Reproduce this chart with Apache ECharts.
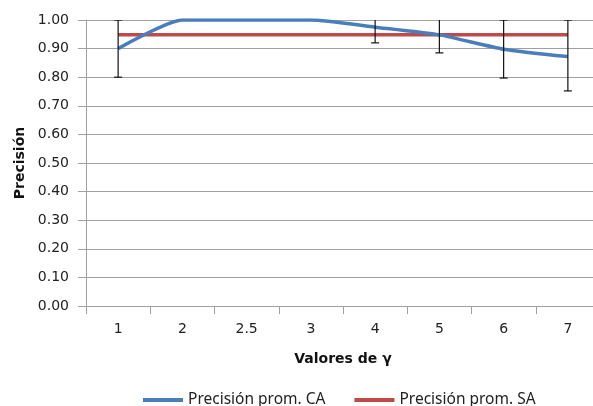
<!DOCTYPE html>
<html>
<head>
<meta charset="utf-8">
<script src="https://cdn.jsdelivr.net/npm/echarts@6/dist/echarts.min.js"></script>
<style>html,body{margin:0;padding:0;background:#fff;overflow:hidden}#c{width:602px;height:406px}</style>
</head>
<body>
<div id="c"></div>
<script>
var categories = ['1', '2', '2.5', '3', '4', '5', '6', '7'];
var precisionCA = [0.90, 1.00, 1.00, 1.00, 0.975, 0.948, 0.898, 0.872];
var precisionSA = [0.948, 0.948, 0.948, 0.948, 0.948, 0.948, 0.948, 0.948];
// error bars: [category index, low, high]
var errorBars = [[0, 0.80, 1.00], [4, 0.92, 1.03], [5, 0.885, 1.012], [6, 0.797, 1.00], [7, 0.752, 1.00]];
var yTicks = [0, 0.1, 0.2, 0.3, 0.4, 0.5, 0.6, 0.7, 0.8, 0.9, 1.0];

var chart = echarts.init(document.getElementById('c'));
chart.setOption({
  animation: false,
  grid: {left: 86, top: 20, width: 514, height: 286, containLabel: false},
  legend: {
    left: 138, top: 387, itemWidth: 40, itemHeight: 4, itemGap: 29, itemStyle: {}, icon: 'rect',
    textStyle: {fontFamily: 'Noto Sans', fontSize: 15.5, color: '#222'},
    data: ['Precisión prom. CA', 'Precisión prom. SA']
  },
  xAxis: {
    type: 'category', data: categories, boundaryGap: true,
    name: 'Valores de γ', nameLocation: 'middle', nameGap: 46,
    nameTextStyle: {fontFamily: 'DejaVu Sans', fontWeight: 'bold', fontSize: 14, color: '#111'},
    axisLine: {lineStyle: {color: '#a0a0a0', width: 1}},
    axisTick: {show: true, length: 8, alignWithLabel: false, lineStyle: {color: '#a0a0a0'}},
    axisLabel: {margin: 16, fontFamily: 'DejaVu Sans', fontSize: 14, color: '#222', interval: 0},
    splitLine: {show: false}
  },
  yAxis: {
    type: 'value', min: 0, max: 1, interval: 0.1,
    name: 'Precisión', nameLocation: 'middle', nameGap: 59, nameRotate: 90,
    nameTextStyle: {fontFamily: 'DejaVu Sans', fontWeight: 'bold', fontSize: 14, color: '#111'},
    axisLine: {show: true, lineStyle: {color: '#a0a0a0', width: 1}},
    axisTick: {show: true, length: 8, lineStyle: {color: '#a0a0a0'}},
    axisLabel: {margin: 17, fontFamily: 'DejaVu Sans', fontSize: 14, color: '#222',
      formatter: function (v) { return v.toFixed(2); }},
    splitLine: {show: true, lineStyle: {color: '#a0a0a0', width: 1}}
  },
  series: [
    {
      name: 'Precisión prom. CA', type: 'line', data: precisionCA, smooth: 0.2,
      symbol: 'none', color: '#4a7ebb', lineStyle: {width: 3.5, color: '#4a7ebb'}, z: 3
    },
    {
      name: 'Precisión prom. SA', type: 'line', data: precisionSA,
      symbol: 'none', color: '#be4b48', lineStyle: {width: 3.5, color: '#be4b48'}, z: 2
    },
    {
      name: 'err', type: 'custom', data: errorBars, z: 5, clip: true,
      renderItem: function (params, api) {
        var x = api.value(0);
        var lo = api.coord([x, api.value(1)]);
        var hi = api.coord([x, api.value(2)]);
        var hw = 4;
        var st = {stroke: '#111', lineWidth: 1.2};
        return {
          type: 'group',
          children: [
            {type: 'line', shape: {x1: lo[0], y1: lo[1], x2: hi[0], y2: hi[1]}, style: st},
            {type: 'line', shape: {x1: lo[0] - hw, y1: lo[1], x2: lo[0] + hw, y2: lo[1]}, style: st},
            {type: 'line', shape: {x1: hi[0] - hw, y1: hi[1], x2: hi[0] + hw, y2: hi[1]}, style: st}
          ]
        };
      },
      encode: {x: 0, y: [1, 2]}
    }
  ]
});
</script>
</body>
</html>
